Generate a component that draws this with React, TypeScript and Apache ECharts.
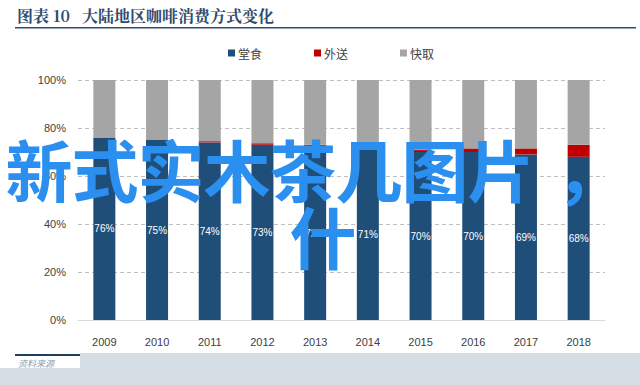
import React, { useEffect, useRef } from "react";
import * as echarts from "echarts";

const years = ["2009", "2010", "2011", "2012", "2013", "2014", "2015", "2016", "2017", "2018"];
const dineIn = [76, 75, 74, 73, 72, 71, 70, 70, 69, 68];
const delivery = [0, 0.2, 0.5, 0.6, 1, 0.6, 0.8, 1.5, 2.5, 5];
const takeaway = dineIn.map((d, i) => +(100 - d - delivery[i]).toFixed(1));
const seriesNames = ["堂食", "外送", "快取"];
const titleText = "图表 10   大陆地区咖啡消费方式变化";
const sourceText = "资料来源";
const watermark1 = "新式实木茶几图片";
const watermarkComma = "，";
const watermark2 = "什";

export default function App() {
  const ref = useRef<HTMLDivElement>(null);
  useEffect(() => {
    if (!ref.current) return;
    const chart = echarts.init(ref.current, null, { renderer: "svg" });
    const axisText = { color: "#404040", fontSize: 11, fontFamily: "Liberation Sans, Arial, sans-serif" };
    const wmFont = "bold 67px 'Noto Sans CJK SC'";
    const wmChars = Array.from(watermark1).map((ch, i) => ({
      type: "text",
      x: 39 + 66 * i,
      y: 167,
      z: 100,
      style: { text: ch, fill: "#2B8FEF", font: wmFont, align: "center", verticalAlign: "middle" },
    }));
    chart.setOption({
      animation: false,
      backgroundColor: "#ffffff",
      legend: {
        top: 42,
        left: 223,
        itemWidth: 7,
        itemHeight: 7,
        itemGap: 52,
        icon: "rect",
        textStyle: { color: "#404040", fontSize: 12, fontFamily: "Noto Sans CJK SC", padding: [0, 0, 0, -2] },
        data: seriesNames,
      },
      grid: { left: 78, right: 35, top: 80, bottom: 65 },
      xAxis: {
        type: "category",
        data: years,
        axisLine: { lineStyle: { color: "#D9D9D9" } },
        axisTick: { show: false },
        axisLabel: { ...axisText, margin: 16 },
      },
      yAxis: {
        type: "value",
        min: 0,
        max: 100,
        interval: 20,
        axisLabel: { ...axisText, formatter: "{value}%", margin: 12 },
        axisLine: { show: false },
        axisTick: { show: false },
        splitLine: { lineStyle: { color: "#BFBFBF", type: [4, 3] } },
      },
      series: [
        {
          name: seriesNames[0],
          type: "bar",
          stack: "s",
          barWidth: 22,
          data: dineIn,
          itemStyle: { color: "#1F4E79" },
          label: {
            show: true,
            position: "inside",
            formatter: "{c}%",
            color: "#ffffff",
            fontSize: 10,
            fontFamily: "Liberation Sans, Arial, sans-serif",
          },
        },
        {
          name: seriesNames[1],
          type: "bar",
          stack: "s",
          barWidth: 22,
          data: delivery,
          itemStyle: { color: "#C00000" },
        },
        {
          name: seriesNames[2],
          type: "bar",
          stack: "s",
          barWidth: 22,
          data: takeaway,
          itemStyle: { color: "#A5A5A5" },
        },
      ],
      graphic: [
        {
          type: "text",
          left: 17,
          top: 7,
          style: {
            text: titleText,
            fill: "#2F4B6E",
            font: "bold 16px 'Noto Serif CJK SC', 'Noto Sans CJK SC', serif",
          },
        },
        {
          type: "rect",
          shape: { x: 15, y: 27, width: 621, height: 1.5 },
          style: { fill: "#2F4B6E" },
        },
        {
          type: "rect",
          shape: { x: 80, y: 353, width: 560, height: 32 },
          style: { fill: "#D5DDE5" },
        },
        {
          type: "rect",
          shape: { x: 0, y: 368, width: 80, height: 17 },
          style: { fill: "#D5DDE5" },
        },
        {
          type: "rect",
          shape: { x: 15, y: 354, width: 65, height: 2 },
          style: { fill: "#1F3F60" },
        },
        {
          type: "text",
          left: 18,
          top: 359,
          style: { text: sourceText, fill: "#8C9DB5", font: "italic 9px 'Noto Sans CJK SC'" },
        },
        ...wmChars,
        {
          type: "text",
          x: 556,
          y: 167,
          z: 100,
          style: { text: watermarkComma, fill: "#2B8FEF", font: wmFont, align: "left", verticalAlign: "middle" },
        },
        {
          type: "text",
          x: 323,
          y: 234,
          z: 100,
          style: { text: watermark2, fill: "#2B8FEF", font: wmFont, align: "center", verticalAlign: "middle" },
        },
      ],
    });
    return () => chart.dispose();
  }, []);
  return <div ref={ref} style={{ width: 640, height: 385, position: "absolute", left: 0, top: 0 }} />;
}
